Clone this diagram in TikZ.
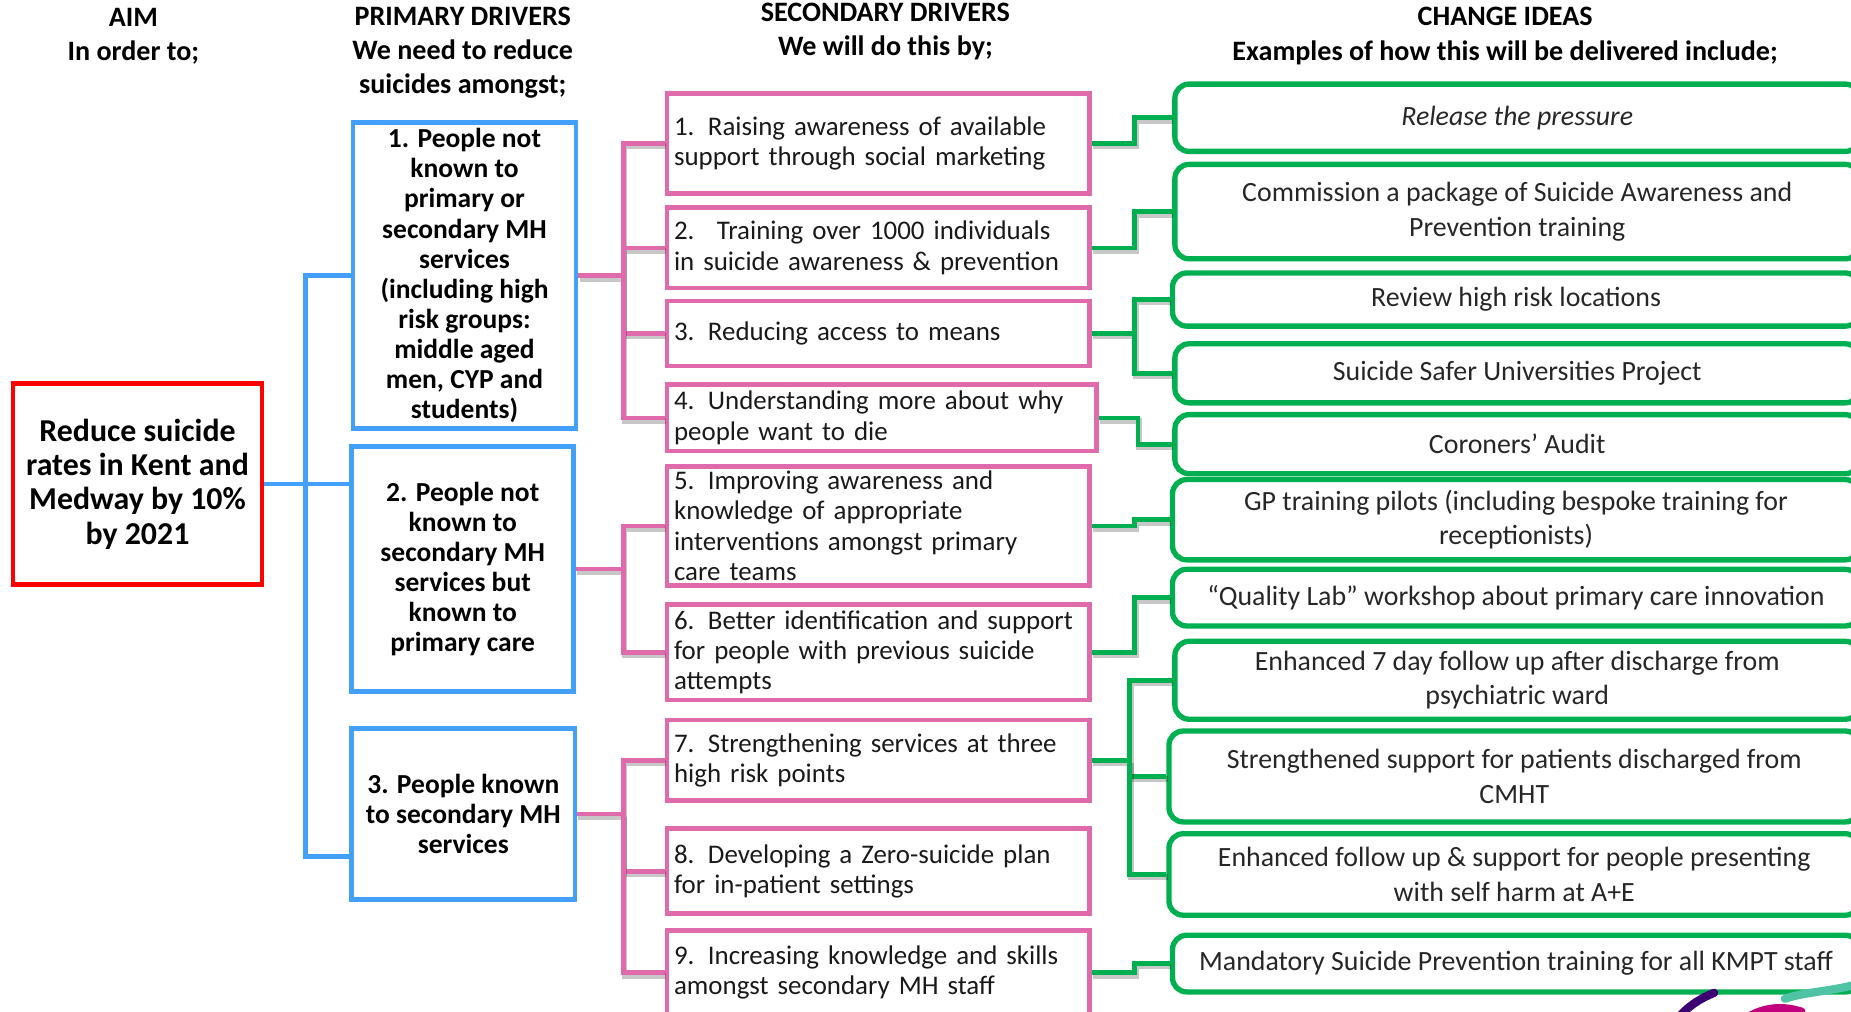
\documentclass[tikz,border=0pt]{standalone}
\usepackage{fontspec}
\setmainfont{Carlito}
\definecolor{aimred}{RGB}{255,0,0}
\definecolor{drvblue}{RGB}{66,160,250}
\definecolor{drvpink}{RGB}{224,107,172}
\definecolor{ideagreen}{RGB}{0,176,80}
\definecolor{logopurple}{RGB}{60,0,115}
\definecolor{logomagenta}{RGB}{195,0,125}
\definecolor{logoteal}{RGB}{80,195,165}
\tikzset{
  head/.style={font=\fontsize{23.8}{29}\selectfont\bfseries,align=center,text=black},
  aimbox/.style={draw=aimred,line width=4pt,anchor=north west,align=center,inner sep=0pt,
    font=\fontsize{27}{29}\selectfont\bfseries},
  pdriver/.style={draw=drvblue,line width=4pt,anchor=north west,align=center,inner sep=0pt,
    font=\fontsize{23.3}{25.5}\selectfont\bfseries},
  sdriver/.style={draw=drvpink,line width=4pt,anchor=north west,align=left,text width=346pt,
    inner xsep=6pt,inner ysep=0pt,font=\fontsize{22.8}{25.7}\selectfont,text=black!90},
  idea/.style={draw=ideagreen,line width=4.5pt,rounded corners=12pt,anchor=north west,
    align=center,inner sep=0pt,font=\fontsize{23.6}{29}\selectfont,text=black!85},
  link/.style={preaction={draw=black,opacity=0.22,line width=5pt,
    transform canvas={xshift=1pt,yshift=-2.5pt}}}
}
\begin{document}
\begin{tikzpicture}[x=1pt,y=-1pt]
      \useasboundingbox (0,0) rectangle (1568,857);
      \draw
        (113,30.5) node[head] (haim){AIM\\In order to;}
        (392,44.5) node[head] (hprim){PRIMARY DRIVERS\\We need to reduce\\suicides amongst;}
        (750,26.5) node[head] (hsec){SECONDARY DRIVERS\\We will do this by;}
        (1275,30.5) node[head] (hidea){CHANGE IDEAS\\Examples of how this will be delivered include;};
      \draw
        (9,323) node[aimbox,minimum width=211,minimum height=170] (aim){Reduce suicide\\rates in Kent and\\Medway by 10\%\\by 2021};
      \draw
        (297,102) node[pdriver,minimum width=189,minimum height=259] (p1){1. People not\\known to\\primary or\\secondary MH\\services\\(including high\\risk groups:\\middle aged\\men, CYP and\\students)}
        (296,376) node[pdriver,minimum width=188,minimum height=208] (p2){2. People not\\known to\\secondary MH\\services but\\known to\\primary care}
        (296,615) node[pdriver,minimum width=189,minimum height=145] (p3){3. People known\\to secondary MH\\services};
      \draw
        (563,77) node[sdriver,minimum height=85] (s1){1. Raising awareness of available\\support through social marketing}
        (563,174) node[sdriver,minimum height=68] (s2){2.~ Training over 1000 individuals\\in suicide awareness \& prevention}
        (563,253) node[sdriver,minimum height=55] (s3){3. Reducing access to means}
        (563,324) node[sdriver,minimum height=56,text width=352pt] (s4){4. Understanding more about why\\people want to die}
        (563,393) node[sdriver,minimum height=101] (s5){5. Improving awareness and\\knowledge of appropriate\\interventions amongst primary\\care teams}
        (563,510) node[sdriver,minimum height=81] (s6){6. Better identification and support\\for people with previous suicide\\attempts}
        (563,608) node[sdriver,minimum height=68] (s7){7. Strengthening services at three\\high risk points}
        (563,700) node[sdriver,minimum height=72] (s8){8. Developing a Zero-suicide plan\\for in-patient settings}
        (563,786) node[sdriver,minimum height=72] (s9){9. Increasing knowledge and skills\\amongst secondary MH staff};
      \draw
        (993,69) node[idea,minimum width=580,minimum height=57] (c1){\itshape Release the pressure}
        (993,137) node[idea,minimum width=580,minimum height=80] (c2){Commission a package of Suicide Awareness and\\Prevention training}
        (991,229) node[idea,minimum width=582,minimum height=45] (c3){Review high risk locations}
        (993,289) node[idea,minimum width=580,minimum height=50] (c4){Suicide Safer Universities Project}
        (993,349) node[idea,minimum width=580,minimum height=50] (c5){Coroners’ Audit}
        (991,404) node[idea,minimum width=582,minimum height=68] (c6){GP training pilots (including bespoke training for\\receptionists)}
        (991,480) node[idea,minimum width=582,minimum height=48] (c7){“Quality Lab” workshop about primary care innovation}
        (993,541) node[idea,minimum width=580,minimum height=66] (c8){Enhanced 7 day follow up after discharge from\\psychiatric ward}
        (988,617) node[idea,minimum width=585,minimum height=77] (c9){Strengthened support for patients discharged from\\CMHT}
        (988,704) node[idea,minimum width=585,minimum height=69] (c10){Enhanced follow up \& support for people presenting\\with self harm at A+E}
        (991,790) node[idea,minimum width=582,minimum height=48] (c11){Mandatory Suicide Prevention training for all KMPT staff};
      \begin{scope}[drvblue,line width=4pt]
        \draw (aim.east) -- (aim.east -| p2.west);
        \draw (p1.west) -- ++(-38,0) |- ([yshift=-36pt]p3.west);
      \end{scope}
      \begin{scope}[drvpink,line width=4pt]
        \draw[link] (p1.east) -- ++(38,0) coordinate (j1);
        \draw[link] (j1) |- (s1.west);
        \draw[link] (j1) |- (s2.west);
        \draw[link] (j1) |- (s3.west);
        \draw[link] (j1) |- (s4.west);
        \draw[link] (p2.east) -- ++(40,0) coordinate (j2);
        \draw[link] (j2) |- (s5.west);
        \draw[link] (j2) |- (s6.west);
        \draw[link] (p3.east) -- ++(39,0) coordinate (j3);
        \draw[link] (j3) |- (s7.west);
        \draw[link] (j3) |- (s8.west);
        \draw[link] (j3) |- (s9.west);
      \end{scope}
      \begin{scope}[ideagreen,line width=4pt]
        \draw[link] (s1.east) -- ++(36,0) |- (c1.west);
        \draw[link] (s2.east) -- ++(36,0) |- (c2.west);
        \draw[link] (s3.east) -- ++(36,0) coordinate (k3);
        \draw[link] (k3) |- (c3.west);
        \draw[link] (k3) |- (c4.west);
        \draw[link] (s4.east) -- ++(33,0) |- (c5.west);
        \draw[link] (s5.east) -- ++(36,0) |- (c6.west);
        \draw[link] (s6.east) -- ++(36,0) |- (c7.west);
        \draw[link] (s7.east) -- ++(32,0) coordinate (k7);
        \draw[link] (k7) |- (c8.west);
        \draw[link] (k7) |- (c9.west);
        \draw[link] (k7) |- (c10.west);
        \draw[link] (s9.east) -- ++(36,0) |- (c11.west);
      \end{scope}
      \begin{scope}[line width=7pt,line cap=round]
        \draw[logopurple] (1420,864) .. controls (1430,852) and (1440,846) .. (1452,841);
        \draw[logomagenta] (1480,862) .. controls (1495,853) and (1510,852) .. (1526,857);
        \draw[logoteal] (1512,846) .. controls (1530,840) and (1550,840) .. (1572,834);
      \end{scope}
    \end{tikzpicture}
\end{document}
